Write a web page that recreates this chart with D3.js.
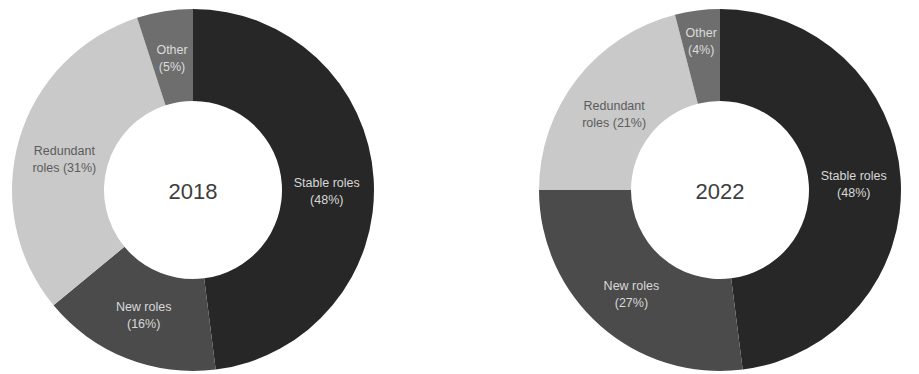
<!DOCTYPE html>
<html>
<head>
<meta charset="utf-8">
<script src="https://cdn.jsdelivr.net/npm/d3@7"></script>
<style>
  html, body { margin: 0; padding: 0; background: #fff; }
  svg { display: block; }
  text { font-family: "Liberation Sans", Arial, Helvetica, sans-serif; }
</style>
</head>
<body>
<svg id="chart" width="919" height="374"></svg>
<script>
// Workforce composition by role type, two survey years
const years = ["2018", "2022"];
const categories = ["Stable roles", "New roles", "Redundant roles", "Other"];
const values2018 = [48, 16, 31, 5];
const values2022 = [48, 27, 21, 4];
// Label line breaks per category
const labelLines = {
  "Stable roles": ["Stable roles"],
  "New roles": ["New roles"],
  "Redundant roles": ["Redundant", "roles"],
  "Other": ["Other"]
};

const fills = d3.scaleOrdinal()
  .domain(categories)
  .range(["#272727", "#4b4b4b", "#c9c9c9", "#6e6e6e"]);
const labelFills = d3.scaleOrdinal()
  .domain(categories)
  .range(["#d8d8d8", "#d8d8d8", "#5c5c5c", "#dcdcdc"]);

const svg = d3.select("#chart");
const outerR = 181, innerR = 89;
const centers = [[193, 190], [720, 190]];
// Small vertical adjustments to individual slice labels
const labelNudge = {
  "2018|Stable roles": 9,
  "2018|Redundant roles": 6,
  "2022|Redundant roles": 6,
  "2022|New roles": 3,
  "2022|Stable roles": 2
};

const pie = d3.pie().sort(null).value(d => d.value);
const arc = d3.arc().innerRadius(innerR).outerRadius(outerR);
const labelArc = d3.arc().innerRadius(134).outerRadius(134);
const smallLabelArc = d3.arc().innerRadius(150).outerRadius(150);

[values2018, values2022].forEach((vals, i) => {
  const data = categories.map((c, j) => ({ category: c, value: vals[j] }));
  const g = svg.append("g")
    .attr("transform", `translate(${centers[i][0]},${centers[i][1]})`);

  const slices = pie(data);

  g.selectAll("path")
    .data(slices)
    .join("path")
    .attr("d", arc)
    .attr("fill", d => fills(d.data.category));

  // Slice labels: name with share in parentheses
  slices.forEach(s => {
    const c = s.data.category;
    const pos = (s.data.value < 5 ? smallLabelArc : labelArc).centroid(s);
    const dy = labelNudge[years[i] + "|" + c] || 0;
    const lines = labelLines[c].slice();
    const pct = `(${s.data.value}%)`;
    if (c === "Redundant roles") {
      lines[lines.length - 1] += " " + pct;
    } else {
      lines.push(pct);
    }
    const lh = 17;
    const t = g.append("text")
      .attr("text-anchor", "middle")
      .attr("font-size", 12.5)
      .attr("fill", labelFills(c))
      .attr("x", pos[0])
      .attr("y", pos[1] + dy - (lines.length - 1) * lh / 2 + 4.5);
    lines.forEach((ln, k) => {
      t.append("tspan")
        .attr("x", pos[0])
        .attr("dy", k === 0 ? 0 : lh)
        .text(ln);
    });
  });

  // Year in the centre of the ring
  g.append("text")
    .attr("text-anchor", "middle")
    .attr("y", 9)
    .attr("font-size", 22)
    .attr("fill", "#3e3e3e")
    .text(years[i]);
});
</script>
</body>
</html>
